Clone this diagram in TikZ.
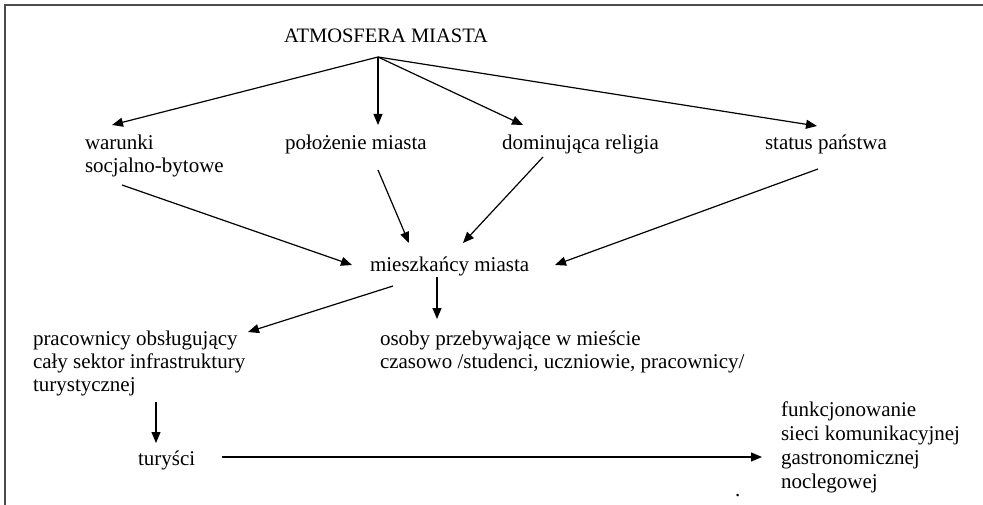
\documentclass[tikz,border=0pt]{standalone}
\usepackage{fontspec}
\setmainfont{Liberation Serif}
\usetikzlibrary{arrows.meta}
\tikzset{
  lbl/.style={inner sep=0pt, outer sep=0pt, anchor=base west, font=\fontsize{21}{23}\selectfont},
  arr/.style={line width=1.2pt, draw=black, -{Triangle[length=11pt,width=9pt]}},
  frame/.style={line width=1.5pt, draw=black!70}
}
\newcommand{\mylines}[1]{\begin{tabular}[t]{@{}l@{}}#1\end{tabular}}
\begin{document}
\begin{tikzpicture}[x=1pt,y=-1pt]
\useasboundingbox (0,0) rectangle (983,505);
\draw[frame] (983,5) -- (5,5) -- (5,505);
% nodes
\node[lbl, font=\fontsize{20.5}{23}\selectfont] (title) at (284,43) {ATMOSFERA MIASTA};
\node[lbl] (war) at (85,150) {\mylines{warunki\\socjalno-bytowe}};
\node[lbl] (pol) at (285,150) {położenie miasta};
\node[lbl] (dom) at (502,150) {dominująca religia};
\node[lbl] (stat) at (765,150) {status państwa};
\node[lbl] (mie) at (370,272) {mieszkańcy miasta};
\node[lbl] (prac) at (33,345) {\mylines{pracownicy obsługujący\\cały sektor infrastruktury\\turystycznej}};
\node[lbl] (osob) at (380,345) {\mylines{osoby przebywające w mieście\\czasowo /studenci, uczniowie, pracownicy/}};
\node[lbl] (tur) at (138,465) {turyści};
\node[lbl, font=\fontsize{21}{24}\selectfont] (fun) at (781,416) {\mylines{funkcjonowanie\\sieci komunikacyjnej\\gastronomicznej\\noclegowej}};
\node[lbl] (dot) at (735,496) {.};
% connectors
\coordinate (apex) at ([shift={(94,14)}]title.base west);
\draw[line width=1.2pt] (apex) -- ++(0,0);
\draw[arr] (apex) -- ([shift={(27,-25)}]war.base west);
\draw[arr] (apex) -- ([shift={(93,-25)}]pol.base west);
\draw[arr] (apex) -- ([shift={(21,-25)}]dom.base west);
\draw[arr] (apex) -- ([shift={(52,-24)}]stat.base west);
\draw[arr] ([shift={(37,35)}]war.base west) -- ([shift={(-18,-7)}]mie.base west);
\draw[arr] ([shift={(93,20)}]pol.base west) -- ([shift={(39,-29)}]mie.base west);
\draw[arr] ([shift={(41,7)}]dom.base west) -- ([shift={(93,-29)}]mie.base west);
\draw[arr] ([shift={(53,19)}]stat.base west) -- ([shift={(185,-7)}]mie.base west);
\draw[arr] ([shift={(67,5)}]mie.base west) -- ([shift={(57,-26)}]osob.base west);
\draw[arr] ([shift={(23,14)}]mie.base west) -- ([shift={(215,-13)}]prac.base west);
\draw[arr] ([shift={(123,57)}]prac.base west) -- ([shift={(18,-22)}]tur.base west);
\draw[arr] ([shift={(84,-8)}]tur.base west) -- ([shift={(-19,41)}]fun.base west);
\end{tikzpicture}
\end{document}
